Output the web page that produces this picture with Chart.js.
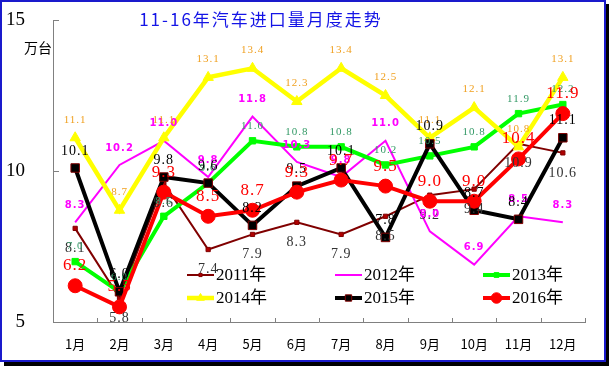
<!DOCTYPE html>
<html>
<head>
<meta charset="utf-8">
<script src="https://cdn.jsdelivr.net/npm/chart.js@4.4.1/dist/chart.umd.min.js"></script>
<style>
  html, body { margin: 0; padding: 0; background: #fff; }
  #wrap { width: 609px; height: 366px; position: relative; }
</style>
</head>
<body>
<div id="wrap"><canvas id="importChart" width="609" height="366"></canvas></div>
<script>
// Monthly car imports, 10k units
const months = ['1月', '2月', '3月', '4月', '5月', '6月', '7月', '8月', '9月', '10月', '11月', '12月'];
const y2011 = [8.1, 5.8, 9.6, 7.4, 7.9, 8.3, 7.9, 8.5, 9.2, 9.4, 10.9, 10.6];
const y2012 = [8.3, 10.2, 11.0, 9.8, 11.8, 10.3, 9.8, 11.0, 8.0, 6.9, 8.5, 8.3];
const y2013 = [7.0, 6.0, 8.5, 9.6, 11.0, 10.8, 10.8, 10.2, 10.5, 10.8, 11.9, 12.2];
const y2014 = [11.1, 8.7, 11.1, 13.1, 13.4, 12.3, 13.4, 12.5, 11.1, 12.1, 10.8, 13.1];
const y2015 = [10.1, 6.0, 9.8, 9.6, 8.2, 9.5, 10.1, 7.8, 10.9, 8.7, 8.4, 11.1];
const y2016 = [6.2, 5.5, 9.3, 8.5, 8.7, 9.3, 9.7, 9.5, 9.0, 9.0, 10.4, 11.9];
const yTicks = [5, 10, 15];

const serif = '"Liberation Serif", "Noto Sans CJK SC", serif';
const cjk = '"Noto Sans CJK SC", sans-serif';

// data label look per series
const labelStyle = [
    { color: '#333333', font: '14px ' + serif, dy: 20 },
    { color: '#ff00ff', font: 'bold 10px "DejaVu Sans", sans-serif', dy: -17 },
    { color: '#339966', font: '11px ' + serif, dy: -15 },
    { color: '#f0a020', font: '11px ' + serif, dy: -18 },
    { color: '#000000', font: '14px ' + serif, dy: -17 },
    { color: '#ff0000', font: '17px ' + serif, dy: -20 }
];

// Data labels, legend, title, frame
const decorPlugin = {
    id: 'decor',
    afterDatasetsDraw(chart) {
        const ctx = chart.ctx;
        ctx.save();
        ctx.textAlign = 'center';
        ctx.textBaseline = 'middle';
        ctx.letterSpacing = '1px';
        chart.data.datasets.forEach((ds, i) => {
            const meta = chart.getDatasetMeta(i);
            const st = labelStyle[i];
            ctx.fillStyle = st.color;
            ctx.font = st.font;
            meta.data.forEach((pt, j) => {
                ctx.fillText(ds.data[j].toFixed(1), pt.x, pt.y + st.dy);
            });
        });
        ctx.restore();
    },
    afterDraw(chart) {
        const ctx = chart.ctx;
        const area = chart.chartArea;
        const ys = chart.scales.y;
        ctx.save();

        // axis ticks (inside) and y labels
        ctx.strokeStyle = '#808080';
        ctx.lineWidth = 1;
        ctx.beginPath();
        yTicks.forEach(v => {
            const y = Math.round(ys.getPixelForValue(v)) + 0.5;
            ctx.moveTo(area.left, y);
            ctx.lineTo(area.left + 6, y);
        });
        for (let k = 1; k <= months.length; k++) {
            const x = Math.round(area.left + (area.right - area.left) * k / months.length) + 0.5;
            ctx.moveTo(x, area.bottom);
            ctx.lineTo(x, area.bottom - 4);
        }
        ctx.stroke();

        ctx.fillStyle = '#000';
        ctx.font = '19px ' + serif;
        ctx.textAlign = 'right';
        ctx.textBaseline = 'middle';
        yTicks.forEach(v => {
            ctx.fillText(String(v), 25, ys.getPixelForValue(v));
        });

        // unit
        ctx.font = '14px ' + cjk;
        ctx.textAlign = 'center';
        ctx.fillText('万台', 38, 48);

        // title
        ctx.fillStyle = '#1414e6';
        ctx.font = '17px ' + cjk;
        ctx.letterSpacing = '2px';
        ctx.fillText('11-16年汽车进口量月度走势', 261, 20);
        ctx.letterSpacing = '0px';

        // legend
        const cols = [187, 335, 483];
        const rows = [275, 298];
        chart.data.datasets.forEach((ds, i) => {
            const x = cols[i % 3];
            const y = rows[Math.floor(i / 3)];
            ctx.strokeStyle = ds.borderColor;
            ctx.lineWidth = ds.borderWidth;
            ctx.beginPath();
            ctx.moveTo(x, y);
            ctx.lineTo(x + 27, y);
            ctx.stroke();
            if (ds.pointRadius > 0) {
                ctx.fillStyle = ds.pointBackgroundColor;
                ctx.strokeStyle = ds.pointBorderColor;
                ctx.lineWidth = ds.pointBorderWidth;
                Chart.helpers.drawPoint(ctx, {
                    pointStyle: ds.pointStyle,
                    radius: ds.pointRadius * 0.75,
                    borderWidth: ds.pointBorderWidth,
                    rotation: 0
                }, x + 13.5, y);
            }
            ctx.fillStyle = '#000';
            ctx.font = '17px ' + serif;
            ctx.textAlign = 'left';
            ctx.fillText(ds.label, x + 29, y + 1);
        });

        // frame with shadow
        ctx.fillStyle = '#000';
        ctx.fillRect(606, 4, 3, 362);
        ctx.fillRect(4, 362, 605, 4);
        ctx.strokeStyle = '#1a1acc';
        ctx.lineWidth = 2;
        ctx.strokeRect(1, 1, 604, 360);
        ctx.restore();
    }
};

function series(label, data, color, width, style, radius, fill, border, order) {
    return {
        label: label,
        data: data,
        borderColor: color,
        backgroundColor: color,
        borderWidth: width,
        pointStyle: style,
        pointRadius: radius,
        pointBackgroundColor: fill,
        pointBorderColor: border,
        pointBorderWidth: 1,
        tension: 0,
        order: order
    };
}

new Chart(document.getElementById('importChart'), {
    type: 'line',
    data: {
        labels: months,
        datasets: [
            series('2011年', y2011, '#800000', 2, 'rect', 3, '#b00000', '#800000', 6),
            series('2012年', y2012, '#ff00ff', 2, 'circle', 0, '#ff00ff', '#ff00ff', 5),
            series('2013年', y2013, '#00ff00', 4, 'rect', 4.5, '#00ff00', '#00ff00', 4),
            series('2014年', y2014, '#ffff00', 4.5, 'triangle', 6, '#ffff00', '#ffff00', 3),
            series('2015年', y2015, '#000000', 4, 'rect', 6, '#000000', '#800000', 2),
            series('2016年', y2016, '#ff0000', 4, 'circle', 7, '#ff0000', '#ff0000', 1)
        ]
    },
    options: {
        responsive: false,
        animation: false,
        layout: { padding: { left: 0, right: 24, top: 20, bottom: 0 } },
        plugins: {
            legend: { display: false },
            tooltip: { enabled: false }
        },
        scales: {
            x: {
                offset: true,
                grid: { display: false },
                border: { display: true, color: '#808080', width: 1 },
                ticks: {
                    color: '#000',
                    font: { family: 'Noto Sans CJK SC', size: 13 },
                    padding: 6,
                    maxRotation: 0
                },
                afterFit: (scale) => { scale.height = 44; }
            },
            y: {
                min: 5,
                max: 15,
                afterBuildTicks: (scale) => { scale.ticks = yTicks.map(v => ({ value: v })); },
                grid: { display: false },
                border: { display: true, color: '#808080', width: 1 },
                ticks: { display: false },
                afterFit: (scale) => { scale.width = 53; }
            }
        }
    },
    plugins: [decorPlugin]
});
</script>
</body>
</html>
